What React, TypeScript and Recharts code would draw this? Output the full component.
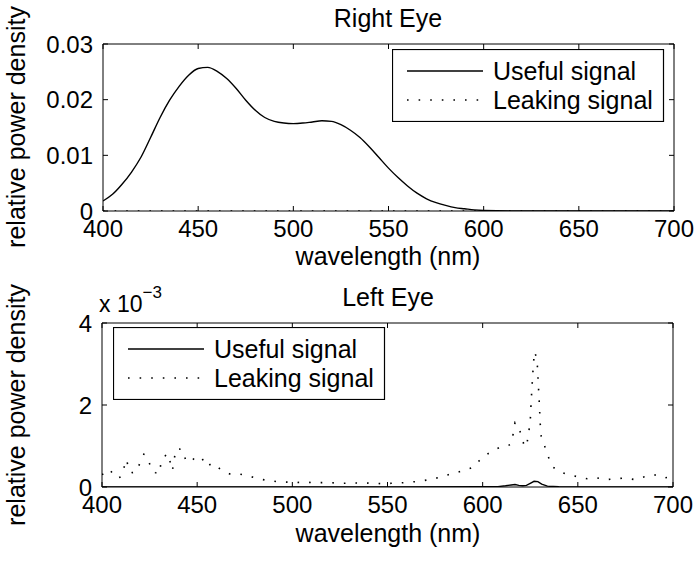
import React from 'react';
import { LineChart, Line, XAxis, YAxis } from 'recharts';

const FONT = '"Liberation Sans", Arial, Helvetica, sans-serif';
const FS = 24;
const LFS = 25;

const wavelengthTicks = [400, 450, 500, 550, 600, 650, 700];
const rightEyeTicks = [0, 0.01, 0.02, 0.03];
const leftEyeTicks = [0, 2, 4];

// Right eye – useful signal
const rightUsefulWl = [400, 405, 410, 415, 420, 425, 430, 435, 440, 445, 450, 455, 460, 465, 470, 475, 480, 485, 490, 495, 500, 505, 510, 515, 520, 525, 530, 535, 540, 545, 550, 555, 560, 565, 570, 575, 580, 585, 590, 595, 600, 620, 650, 700];
const rightUsefulVal = [0.0018, 0.0030, 0.0048, 0.0070, 0.0097, 0.0132, 0.0168, 0.0199, 0.0224, 0.0244, 0.0256, 0.0258, 0.0251, 0.0238, 0.0220, 0.0199, 0.0181, 0.0168, 0.0161, 0.0158, 0.0157, 0.0158, 0.0160, 0.0162, 0.0161, 0.0155, 0.0145, 0.0132, 0.0115, 0.0096, 0.0077, 0.0060, 0.0045, 0.0032, 0.0022, 0.0015, 0.0010, 0.0006, 0.0004, 0.0002, 0.0001, 0, 0, 0];

// Right eye – leaking signal (negligible)
const rightLeakWl = [400, 450, 500, 550, 600, 650, 700];
const rightLeakVal = [0, 0, 0, 0, 0, 0, 0];

// Left eye – useful signal (x 10^-3)
const leftUsefulWl = [400, 450, 500, 550, 600, 608, 612, 615, 617, 619, 621, 623, 625, 627, 629, 631, 634, 640, 700];
const leftUsefulVal = [0, 0, 0, 0, 0.005, 0.01, 0.03, 0.05, 0.06, 0.04, 0.03, 0.04, 0.09, 0.14, 0.13, 0.07, 0.02, 0.005, 0];

// Left eye – leaking signal (x 10^-3)
const leftLeakWl = [400, 402, 404, 406, 408, 410, 412, 413, 414, 416, 418, 420, 422, 424, 426, 428, 430, 431, 434, 436, 437, 438, 439, 442, 444, 446, 449, 452, 455, 458, 462, 467, 472, 477, 482, 487, 492, 497, 502, 507, 512, 517, 522, 527, 532, 537, 542, 547, 552, 557, 562, 567, 572, 577, 582, 587, 591, 595, 599, 604, 609, 613, 615, 616, 617, 619, 620.5, 622, 623, 624, 625, 625.5, 626, 626.6, 627.2, 628, 628.7, 629.2, 629.8, 630.3, 630.8, 632.4, 634.3, 636.6, 640, 645, 650, 655, 660, 665, 670, 675, 680, 685, 690, 695, 700];
const leftLeakVal = [0.30, 0.36, 0.43, 0.30, 0.21, 0.25, 0.54, 0.67, 0.40, 0.35, 0.37, 0.59, 0.80, 0.72, 0.42, 0.35, 0.32, 0.58, 0.82, 0.59, 0.40, 0.70, 0.93, 0.92, 0.66, 0.60, 0.72, 0.74, 0.50, 0.58, 0.44, 0.32, 0.32, 0.27, 0.20, 0.16, 0.13, 0.12, 0.11, 0.12, 0.10, 0.11, 0.10, 0.09, 0.10, 0.09, 0.10, 0.08, 0.09, 0.10, 0.12, 0.14, 0.18, 0.23, 0.30, 0.36, 0.42, 0.48, 0.68, 0.85, 0.97, 1.00, 1.05, 1.29, 1.57, 1.48, 1.19, 1.00, 0.98, 1.27, 1.60, 2.11, 2.50, 2.96, 3.30, 3.20, 2.99, 2.55, 2.00, 1.50, 1.20, 1.02, 0.76, 0.50, 0.38, 0.30, 0.25, 0.20, 0.22, 0.18, 0.20, 0.22, 0.18, 0.25, 0.30, 0.22, 0.25];

const legendLabels = ['Useful signal', 'Leaking signal'];

const zip = (wl: number[], v: number[]) => wl.map((w, i) => ({ wl: w, v: v[i] }));

const rightUseful = zip(rightUsefulWl, rightUsefulVal);
const rightLeak = zip(rightLeakWl, rightLeakVal);
const leftUseful = zip(leftUsefulWl, leftUsefulVal);
const leftLeak = zip(leftLeakWl, leftLeakVal);

const DOT_DASH = '1.6 10';
const tickStyle = { fill: '#000', fontSize: FS, fontFamily: FONT };
const blank = () => '';

function LegendBox({ left, top }: { left: number; top: number }) {
  return (
    <svg style={{ position: 'absolute', left, top }} width={273} height={73}>
      <rect x={0.5} y={0.5} width={271} height={72} fill="#fff" stroke="#000" strokeWidth={1.2} />
      {legendLabels.map((name, i) => {
        const cy = i === 0 ? 22 : 51;
        return (
          <g key={name}>
            <line
              x1={15}
              x2={91}
              y1={cy}
              y2={cy}
              stroke="#000"
              strokeWidth={1.3}
              strokeDasharray={i === 1 ? DOT_DASH : undefined}
            />
            <text x={101} y={cy + 9} fontFamily={FONT} fontSize={LFS} fill="#000">
              {name}
            </text>
          </g>
        );
      })}
    </svg>
  );
}

function Panel({ top, height, marginTop, marginLeft, marginRight, yDomain, yTicks, useful, leak, smooth }: any) {
  return (
    <LineChart
      width={696}
      height={height}
      margin={{ top: marginTop, right: marginRight, left: marginLeft, bottom: 0 }}
      style={{ position: 'absolute', left: 0, top }}
    >
      <XAxis
        xAxisId="b"
        dataKey="wl"
        type="number"
        domain={[400, 700]}
        ticks={wavelengthTicks}
        allowDataOverflow
        height={36}
        tickSize={-5}
        tickMargin={14}
        tick={tickStyle}
        stroke="#000"
        interval={0}
      />
      <XAxis
        xAxisId="t"
        orientation="top"
        dataKey="wl"
        type="number"
        domain={[400, 700]}
        ticks={wavelengthTicks}
        allowDataOverflow
        height={1}
        tickSize={-5}
        tickFormatter={blank}
        stroke="#000"
        interval={0}
      />
      <YAxis
        yAxisId="l"
        type="number"
        domain={yDomain}
        ticks={yTicks}
        allowDataOverflow
        width={60}
        tickSize={-5}
        tickMargin={15}
        tick={tickStyle}
        stroke="#000"
        interval={0}
      />
      <YAxis
        yAxisId="r"
        orientation="right"
        type="number"
        domain={yDomain}
        ticks={yTicks}
        allowDataOverflow
        width={1}
        tickSize={-5}
        tickFormatter={blank}
        stroke="#000"
        interval={0}
      />
      <Line
        xAxisId="b"
        yAxisId="l"
        data={leak}
        dataKey="v"
        type="linear"
        stroke="#000"
        strokeWidth={1.6}
        strokeDasharray={DOT_DASH}
        dot={false}
        isAnimationActive={false}
      />
      <Line
        xAxisId="b"
        yAxisId="l"
        data={useful}
        dataKey="v"
        type={smooth ? 'monotone' : 'linear'}
        stroke="#000"
        strokeWidth={1.4}
        dot={false}
        isAnimationActive={false}
      />
    </LineChart>
  );
}

const textBase: React.CSSProperties = {
  position: 'absolute',
  fontFamily: FONT,
  fontSize: LFS,
  color: '#000',
  whiteSpace: 'nowrap',
  lineHeight: 1,
};

export default function App() {
  return (
    <div style={{ position: 'absolute', left: 0, top: 0, width: 696, height: 562, background: '#fff', overflow: 'hidden' }}>
      <Panel
        top={0}
        height={247}
        marginTop={43}
        marginLeft={43}
        marginRight={21}
        yDomain={[0, 0.03]}
        yTicks={rightEyeTicks}
        useful={rightUseful}
        leak={rightLeak}
        smooth
      />
      <Panel
        top={280}
        height={243}
        marginTop={42}
        marginLeft={42}
        marginRight={22}
        yDomain={[0, 4]}
        yTicks={leftEyeTicks}
        useful={leftUseful}
        leak={leftLeak}
      />

      {/* titles */}
      <div style={{ ...textBase, left: 388, top: 6, transform: 'translateX(-50%)' }}>Right Eye</div>
      <div style={{ ...textBase, left: 388, top: 285, transform: 'translateX(-50%)' }}>Left Eye</div>

      {/* x labels */}
      <div style={{ ...textBase, left: 388, top: 244, transform: 'translateX(-50%)' }}>wavelength (nm)</div>
      <div style={{ ...textBase, left: 388, top: 521, transform: 'translateX(-50%)' }}>wavelength (nm)</div>

      {/* y labels */}
      <div style={{ ...textBase, left: 16, top: 127, transform: 'translate(-50%, -50%) rotate(-90deg)' }}>relative power density</div>
      <div style={{ ...textBase, left: 16, top: 405, transform: 'translate(-50%, -50%) rotate(-90deg)' }}>relative power density</div>

      {/* exponent */}
      <div style={{ ...textBase, fontSize: 23, left: 99, top: 293 }}>
        x 10<sup style={{ fontSize: 17, verticalAlign: 'top', position: 'relative', top: -9 }}>−3</sup>
      </div>

      <LegendBox left={392} top={49} />
      <LegendBox left={113} top={327} />
    </div>
  );
}
